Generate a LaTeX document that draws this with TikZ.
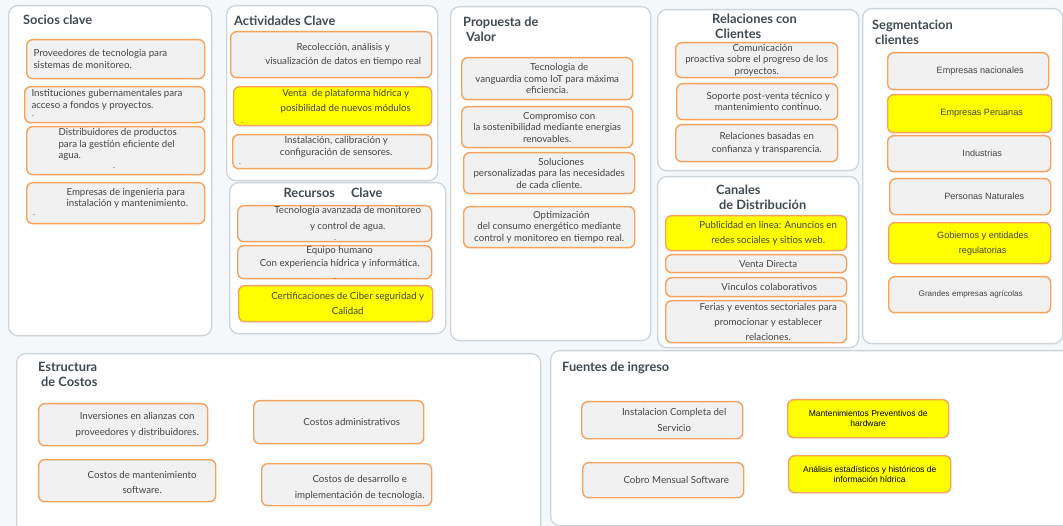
\documentclass[tikz,border=0pt]{standalone}
\usepackage{fontspec}
\setmainfont{Lato}
\newfontfamily\arialfont{Liberation Sans}
\usepackage{xcolor}
\usepackage{tikz}
\usetikzlibrary{positioning}
\definecolor{pagebg}{RGB}{244, 248, 250}
\definecolor{panelline}{RGB}{205, 213, 218}
\definecolor{cardline}{RGB}{245, 162, 93}
\definecolor{cardfill}{RGB}{241, 241, 241}
\definecolor{hotyellow}{RGB}{255, 255, 0}
\definecolor{cardtext}{RGB}{68, 68, 68}
\definecolor{headtext}{RGB}{63, 74, 80}

\begin{document}
\begin{tikzpicture}[
    x=1pt, y=-1pt,
    panel/.style={draw=panelline, fill=white, line width=1.3pt, rounded corners=9pt, anchor=north west, inner sep=0pt},
    card/.style={draw=cardline, fill=cardfill, line width=1.4pt, rounded corners=6pt, anchor=north west, inner sep=0pt},
    hot/.style={card, fill=hotyellow},
    txt/.style={align=center, font=\fontsize{9.7}{11.5}\selectfont, text=cardtext},
    ltxt/.style={txt, align=left, anchor=west},
    atxt/.style={txt, font=\arialfont\fontsize{9.1}{11}\selectfont},
    head/.style={anchor=west, align=left, font=\bfseries\fontsize{12.8}{15}\selectfont, text=headtext, inner sep=0pt},
    stray/.style={font=\fontsize{8}{8}\selectfont, text=cardtext, inner sep=0pt}
]
    \path[use as bounding box, fill=pagebg] (0,0) rectangle (1063,526);

    % blocks of the canvas
    \node[panel, minimum width=203pt, minimum height=330pt] (socios) at (8,5) {};
    \node[panel, minimum width=211pt, minimum height=175pt] (activ) at (226,5) {};
    \node[panel, minimum width=216pt, minimum height=151pt] (recur) at (229,182) {};
    \node[panel, minimum width=200pt, minimum height=334pt] (propu) at (450,6) {};
    \node[panel, minimum width=201pt, minimum height=161pt] (relac) at (657,9) {};
    \node[panel, minimum width=201pt, minimum height=171pt] (canal) at (657,176) {};
    \node[panel, minimum width=200pt, minimum height=335pt] (segme) at (862,8) {};
    \node[panel, minimum width=524pt, minimum height=190pt] (costo) at (16,353) {};
    \node[panel, minimum width=525pt, minimum height=175pt] (ingre) at (550,350) {};

    \node[head] (socioshd) at (23,20) {Socios clave};
    \node[head] (activhd) at (234,21) {Actividades Clave};
    \node[head, anchor=center] (recurhd) at (333,193) {Recursos\hspace{16pt}Clave};
    \node[head] (propuhd) at (463,29) {Propuesta de\\\hspace*{3pt}Valor};
    \node[head] (relachd) at (712,26) {Relaciones con\\\hspace*{3pt}Clientes};
    \node[head] (canalhd) at (716,197) {Canales\\\hspace*{3pt}de Distribución};
    \node[head] (segmehd) at (872,32) {Segmentacion\\\hspace*{3pt}clientes};
    \node[head] (costohd) at (38,374) {Estructura\\\hspace*{3pt}de Costos};
    \node[head] (ingrehd) at (562,368) {Fuentes de ingreso};

    % socios clave
    \node[card, minimum width=178pt, minimum height=39pt, label={[ltxt, xshift=4pt]west:{Proveedores de tecnologia para\\sistemas de monitoreo.}}] (soc1) at (26,39) {};
    \node[card, minimum width=180pt, minimum height=36pt, label={[ltxt, xshift=4pt, yshift=5pt]west:{Instituciones gubernamentales para\\acceso a fondos y proyectos.}}] (soc2) at (24,86) {};
    \node[card, minimum width=178pt, minimum height=48pt, label={[ltxt, xshift=29pt, yshift=6pt]west:{Distribuidores de productos\\para la gestión eficiente del\\agua.}}] (soc3) at (26,126) {};
    \node[card, minimum width=178pt, minimum height=41pt, label={[ltxt, xshift=37pt, yshift=5pt]west:{Empresas de ingenieria para\\instalación y mantenimiento.}}] (soc4) at (26,182) {};
    \node[stray] (dot1) at (33,116) {.};
    \node[stray] (dot2) at (114,168) {.};
    \node[stray] (dot3) at (34,215) {.};

    % actividades clave
    \node[card, minimum width=201pt, minimum height=46pt, label={[txt, xshift=12pt]center:{Recolección, análisis y\\[3pt]visualización de datos en tiempo real}}] (act1) at (230,31) {};
    \node[hot, minimum width=198pt, minimum height=39pt, label={[txt, xshift=13pt, yshift=5pt]center:{Venta\ \ de plataforma hídrica y\\[3pt]posibilidad de nuevos módulos}}] (act2) at (233,86) {};
    \node[card, minimum width=199pt, minimum height=34pt, label={[txt, xshift=4pt, yshift=5pt]center:{Instalación, calibración y\\configuración de sensores.}}] (act3) at (232,134) {};
    \node[stray] (dot4) at (242,123) {.};
    \node[stray] (dot5) at (240,164) {.};

    % recursos clave
    \node[card, minimum width=194pt, minimum height=36pt, label={[txt, xshift=13pt, yshift=5pt]center:{Tecnología avanzada de monitoreo\\[4pt]y control de agua.}}] (rec1) at (237,205) {};
    \node[card, minimum width=194pt, minimum height=33pt, label={[txt, xshift=5pt, yshift=5pt]center:{Equipo humano\\[2pt]Con experiencia hídrica y informática.}}] (rec2) at (237,245) {};
    \node[hot, minimum width=194pt, minimum height=36pt, label={[txt, xshift=12pt]center:{Certificaciones de Ciber seguridad y\\[3pt]Calidad}}] (rec3) at (238,285) {};
    \node[stray] (dot6) at (335,240) {.};
    \node[stray] (dot7) at (335,279) {.};

    % propuesta de valor
    \node[card, minimum width=171pt, minimum height=42pt, label={[txt]center:{\hspace*{24pt}Tecnologia de\\vanguardia como IoT para máxima\\eficiencia.}}] (pro1) at (461,57) {};
    \node[card, minimum width=171pt, minimum height=41pt, label={[txt]center:{\hspace*{24pt}Compromiso con\\la sostenibilidad mediante energias\\renovables.}}] (pro2) at (461,106) {};
    \node[card, minimum width=171pt, minimum height=41pt, label={[txt]center:{\hspace*{24pt}Soluciones\\personalizadas para las necesidades\\de cada cliente.}}] (pro3) at (463,152) {};
    \node[card, minimum width=171pt, minimum height=41pt, label={[txt]center:{\hspace*{24pt}Optimización\\del consumo energético mediante\\control y monitoreo en tiempo real.}}] (pro4) at (463,206) {};

    % relaciones con clientes
    \node[card, minimum width=162pt, minimum height=35pt, label={[txt]center:{\hspace*{12pt}Comunicación\\proactiva sobre el progreso de los\\proyectos.}}] (rel1) at (675,42) {};
    \node[card, minimum width=161pt, minimum height=36pt, label={[txt, xshift=11pt]center:{Soporte post-venta técnico y\\mantenimiento continuo.}}] (rel2) at (676,83) {};
    \node[card, minimum width=162pt, minimum height=37pt, label={[txt, xshift=10pt]center:{Relaciones basadas en\\[2pt]confianza y transparencia.}}] (rel3) at (675,124) {};

    % canales
    \node[hot, minimum width=181pt, minimum height=35pt, label={[txt, xshift=12pt]center:{Publicidad en línea: Anuncios en\\[3pt]redes sociales y sitios web.}}] (can1) at (665,215) {};
    \node[card, minimum width=181pt, minimum height=18pt, label={[txt, xshift=12pt]center:{Venta Directa}}] (can2) at (665,254) {};
    \node[card, minimum width=181pt, minimum height=19pt, label={[txt, xshift=13pt]center:{Vinculos colaborativos}}] (can3) at (665,277) {};
    \node[card, minimum width=181pt, minimum height=42pt, label={[txt, xshift=12pt]center:{Ferias y eventos sectoriales para\\[3.5pt]promocionar y establecer\\[3.5pt]relaciones.}}] (can4) at (665,300) {};

    % segmentacion
    \node[card, minimum width=161pt, minimum height=37pt, label={[atxt, xshift=12pt]center:{Empresas nacionales}}] (seg1) at (887,52) {};
    \node[hot, minimum width=164pt, minimum height=38pt, label={[atxt, xshift=12pt]center:{Empresas Peruanas}}] (seg2) at (887,94) {};
    \node[card, minimum width=163pt, minimum height=36pt, label={[atxt, xshift=13pt]center:{Industrias}}] (seg3) at (887,135) {};
    \node[card, minimum width=161pt, minimum height=36pt, label={[atxt, xshift=14pt]center:{Personas Naturales}}] (seg4) at (889,178) {};
    \node[hot, minimum width=162pt, minimum height=41pt, label={[atxt, xshift=13pt]center:{Gobiernos y entidades\\[4pt]regulatorias}}] (seg5) at (888,222) {};
    \node[card, minimum width=162pt, minimum height=36pt, label={[atxt, xshift=1pt, font=\arialfont\fontsize{8.1}{9}\selectfont]center:{Grandes empresas agrícolas}}] (seg6) at (888,276) {};

    % estructura de costos
    \node[card, minimum width=169pt, minimum height=42pt, label={[txt, xshift=14pt]center:{Inversiones en alianzas con\\[4pt]proveedores y distribuidores.}}] (cos1) at (38,403) {};
    \node[card, minimum width=170pt, minimum height=43pt, label={[txt, xshift=13pt]center:{Costos administrativos}}] (cos2) at (253,400) {};
    \node[card, minimum width=177pt, minimum height=42pt, label={[txt, xshift=15pt, yshift=-2pt]center:{Costos de mantenimiento\\[4pt]software.}}] (cos3) at (38,459) {};
    \node[card, minimum width=170pt, minimum height=42pt, label={[txt, xshift=13pt, yshift=-3pt]center:{Costos de desarrollo e\\[5pt]implementación de tecnología.}}] (cos4) at (261,463) {};

    % fuentes de ingreso
    \node[card, minimum width=161pt, minimum height=37pt, label={[txt, xshift=12pt]center:{Instalacion Completa del\\[4pt]Servicio}}] (ing1) at (581,401) {};
    \node[card, minimum width=161pt, minimum height=35pt, label={[txt, xshift=13pt]center:{Cobro Mensual Software}}] (ing2) at (582,462) {};
    \node[hot, minimum width=161pt, minimum height=38pt, label={[atxt, text=black, font=\arialfont\fontsize{8.5}{10.5}\selectfont]center:{Mantenimientos Preventivos de\\hardware}}] (ing3) at (787,399) {};
    \node[hot, minimum width=162pt, minimum height=37pt, label={[atxt, text=black, font=\arialfont\fontsize{8.5}{10.5}\selectfont]center:{Análisis estadísticos y históricos de\\información hídrica}}] (ing4) at (788,455) {};
\end{tikzpicture}
\end{document}
